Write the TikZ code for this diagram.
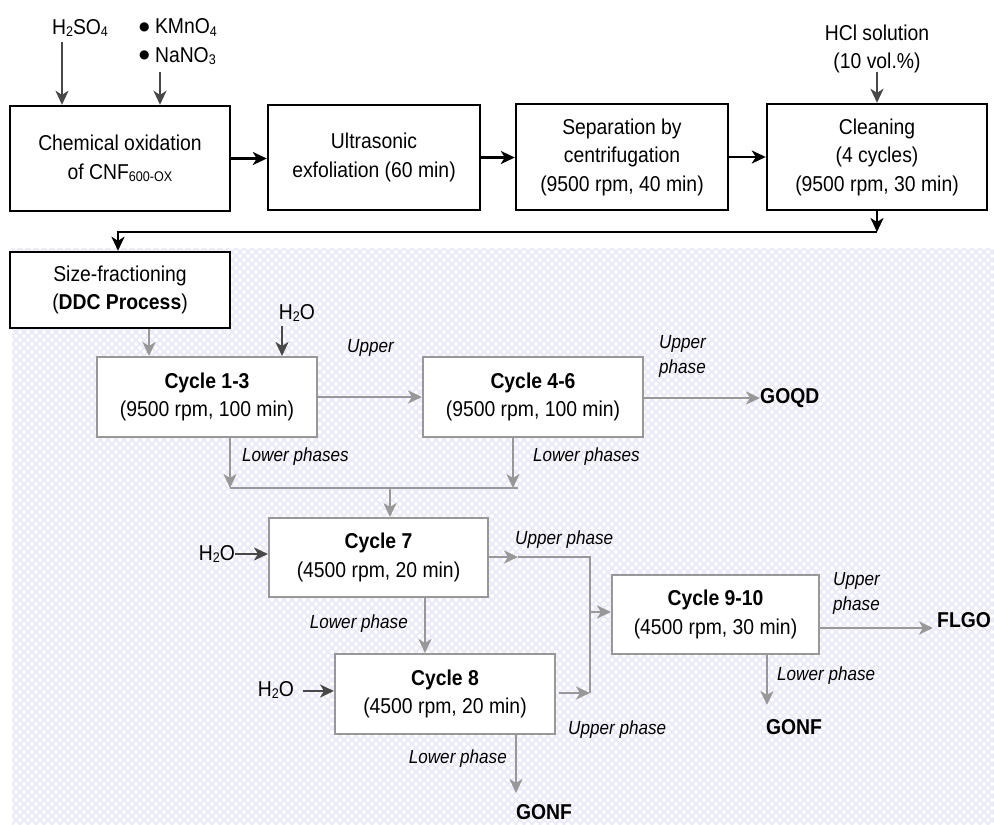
\documentclass[tikz,border=0pt]{standalone}
\usepackage{fontspec}
\setmainfont[FakeStretch=0.9]{Liberation Sans}
\newfontfamily\dejavu{DejaVu Sans}
\usetikzlibrary{arrows.meta}
\newcommand{\sbs}[1]{\raisebox{-2.5pt}{\fontsize{14}{14}\selectfont #1}}
\newcommand{\bigbul}{\raisebox{3.5pt}{\dejavu\fontsize{12}{12}\selectfont ●}}
\definecolor{hatch}{RGB}{235,235,248}
\definecolor{gline}{RGB}{152,152,152}
\definecolor{darr}{RGB}{72,72,72}
\begin{document}
\begin{tikzpicture}[x=1pt,y=-1pt,
  font=\fontsize{21.5}{28.5}\selectfont,
  >={Stealth[length=14pt,width=13pt,inset=4pt]},
  topbox/.style={draw=black,line width=2.4pt,fill=white,align=center,inner sep=0pt},
  cyclebox/.style={draw=gline,line width=2pt,fill=white,align=center,inner sep=0pt},
  blk/.style={draw=black,line width=2.4pt},
  dk/.style={draw=darr,line width=2.2pt},
  gy/.style={draw=gline,line width=2.4pt},
  lbl/.style={font=\fontsize{19}{25}\selectfont\itshape,inner sep=0pt,align=left},
  txt/.style={inner sep=0pt,align=center},
  prod/.style={font=\fontsize{21.5}{24}\selectfont\bfseries,inner sep=0pt}]
\useasboundingbox (0,0) rectangle (994,825);
% background hatch
\begin{scope}
\clip (12,248) rectangle (994,825);
\fill[white] (12,248) rectangle (994,825);
\foreach \i in {-75,...,200}{
  \draw[hatch,line width=1.8pt] (12+8*\i,248) -- (12+8*\i+577,825);
  \draw[hatch,line width=1.8pt] (12+8*\i,248) -- (12+8*\i-577,825);
}
\end{scope}
% top row
\node[topbox,minimum width=220pt,minimum height=105pt] (ox) at (120,158.5) {Chemical oxidation\\of CNF\sbs{600-OX}};
\node[topbox,minimum width=212pt,minimum height=105pt] (us) at (374,157.5) {Ultrasonic\\exfoliation (60 min)};
\node[topbox,minimum width=212pt,minimum height=106pt] (sep) at (622,157) {Separation by\\centrifugation\\(9500 rpm, 40 min)};
\node[topbox,minimum width=220pt,minimum height=106pt] (cl) at (877,157) {Cleaning\\(4 cycles)\\(9500 rpm, 30 min)};
\node[txt] (h2so4) at (80,28) {H\sbs{2}SO\sbs{4}};
\node[txt,align=left,anchor=west] (reag) at (139,42) {\bigbul\ KMnO\sbs{4}\\\bigbul\ NaNO\sbs{3}};
\node[txt] (hcl) at (877,49) {HCl solution\\(10 vol.\%)};
\coordinate (hin1) at (62,42);
\coordinate (kin) at (160,72);
\coordinate (hin) at (877,72);
\draw[dk,->] (hin1) -- (hin1 |- ox.north);
\draw[dk,->] (kin) -- (kin |- ox.north);
\draw[dk,->] (hin) -- (hin |- cl.north);
\draw[blk,->] (ox.east) -- (ox.east -| us.west);
\draw[blk,->] (us.east) -- (us.east -| sep.west);
\draw[blk,->] (sep.east) -- (sep.east -| cl.west);
% size fractioning
\node[topbox,minimum width=220pt,minimum height=76pt] (sf) at (120,290) {Size-fractioning\\(\textbf{DDC Process})};
\coordinate (r1) at (877,232);
\coordinate (r2) at (118,232);
\draw[blk,->] (cl.south) -- (r1);
\draw[blk,->] (r1) -- (r2) -- (r2 |- sf.north);
% cycles
\node[cyclebox,minimum width=220pt,minimum height=80pt] (c13) at (207,397) {\textbf{Cycle 1-3}\\(9500 rpm, 100 min)};
\node[cyclebox,minimum width=220pt,minimum height=80pt] (c46) at (533,397) {\textbf{Cycle 4-6}\\(9500 rpm, 100 min)};
\node[cyclebox,minimum width=219pt,minimum height=79pt] (c7) at (378.5,557.5) {\textbf{Cycle 7}\\(4500 rpm, 20 min)};
\node[cyclebox,minimum width=220pt,minimum height=80pt] (c8) at (445,694) {\textbf{Cycle 8}\\(4500 rpm, 20 min)};
\node[cyclebox,minimum width=207pt,minimum height=79pt] (c910) at (715.5,614.5) {\textbf{Cycle 9-10}\\(4500 rpm, 30 min)};
% sf -> c13
\coordinate (s1) at (149,328);
\draw[gy,->] (s1 |- sf.south) -- (s1 |- c13.north);
% water inputs
\node[txt] (w1) at (297,313) {H\sbs{2}O};
\coordinate (w1a) at (282,326);
\draw[dk,->] (w1a) -- (w1a |- c13.north);
\node[txt] (w7) at (217,554) {H\sbs{2}O};
\draw[dk,->] (w7.east) -- (w7.east -| c7.west);
\node[txt] (w8) at (276,690) {H\sbs{2}O};
\coordinate (w8a) at (303,691);
\draw[dk,->] (w8a) -- (w8a -| c8.west);
% c13 -> c46 -> GOQD
\node[lbl,anchor=west] (up1) at (347,348) {Upper};
\draw[gy,->] (c13.east) -- (c46.west);
\node[prod,anchor=west] (goqd) at (760,398) {GOQD};
\node[lbl,anchor=west] (up2) at (659,356) {Upper\\phase};
\draw[gy,->] (c46.east |- goqd.west) -- (goqd.west);
% lower phases to c7
\coordinate (j1) at (230,488);
\coordinate (j2) at (513,488);
\coordinate (j2e) at (518,488);
\coordinate (j3) at (390,488);
\draw[gy,->] (j1 |- c13.south) -- (j1);
\draw[gy,->] (j2 |- c46.south) -- (j2);
\draw[gy] (j1) -- (j2e);
\draw[gy,->] (j3) -- (j3 |- c7.north);
\node[lbl,anchor=west] (lp1) at (242,457) {Lower phases};
\node[lbl,anchor=west] (lp2) at (533,457) {Lower phases};
% c7 outputs
\coordinate (u7) at (518,557);
\coordinate (v1) at (590,557);
\coordinate (v2) at (590,693);
\coordinate (v3) at (590,612);
\coordinate (u8s) at (559,693);
\draw[gy,->] (c7.east |- u7) -- (u7);
\draw[gy] (u7) -- (v1) -- (v2);
\draw[gy,->] (u8s) -- (v2);
\draw[gy,->] (v3) -- (v3 -| c910.west);
\node[lbl,anchor=west] (up7) at (515,540) {Upper phase};
\node[lbl,anchor=west] (up8) at (568,730) {Upper phase};
\coordinate (l7) at (425,597);
\draw[gy,->] (l7 |- c7.south) -- (l7 |- c8.north);
\node[lbl,anchor=east] (lp7) at (408,624) {Lower phase};
% c8 lower
\node[prod] (gonf1) at (544,812) {GONF};
\coordinate (l8) at (516,793);
\draw[gy,->] (l8 |- c8.south) -- (l8);
\node[lbl,anchor=east] (lp8) at (507,759) {Lower phase};
% c910 outputs
\node[prod,anchor=west] (flgo) at (937,620) {FLGO};
\coordinate (f1) at (933,628);
\draw[gy,->] (c910.east |- f1) -- (f1);
\node[lbl,anchor=west] (up9) at (833,593) {Upper\\phase};
\coordinate (l9) at (767,705);
\draw[gy,->] (l9 |- c910.south) -- (l9);
\node[lbl,anchor=west] (lp9) at (777,676) {Lower phase};
\node[prod] (gonf2) at (794,727) {GONF};
\end{tikzpicture}
\end{document}
